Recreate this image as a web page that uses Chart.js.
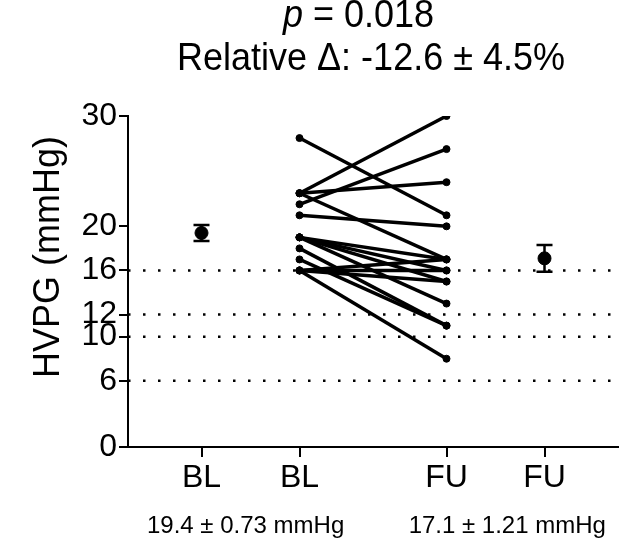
<!DOCTYPE html>
<html>
<head>
<meta charset="utf-8">
<script src="https://cdn.jsdelivr.net/npm/chart.js@4.4.1/dist/chart.umd.min.js"></script>
<style>
  body { margin: 0; background: #fff; }
  #wrap { width: 630px; height: 541px; }
</style>
</head>
<body>
<div id="wrap"><canvas id="hvpgChart"></canvas></div>
<script>
// HVPG paired plot, baseline (BL) vs follow-up (FU)
const xLabels = ["BL", "BL", "FU", "FU"];
const xTickPos = [0.75, 1.75, 3.25, 4.25];
const yTicks = [0, 6, 10, 12, 16, 20, 30];
const refLines = [6, 10, 12, 16];

// one entry per patient
const baseline = [28, 23, 23, 23, 22, 21, 19, 19, 19, 19, 18, 17, 16, 16, 16, 16];
const followUp = [21, 30, 24, 17, 27, 20, 16, 15, 13, 17, 11, 11, 17, 16, 8, 15];

const meanValues = [19.4, 17.1];
const semValues = [0.73, 1.21];
const meanLabels = ["19.4 ± 0.73 mmHg", "17.1 ± 1.21 mmHg"];

const FONT = "'Liberation Sans', Arial, sans-serif";

const datasets = [];

refLines.forEach(v => {
  datasets.push({
    data: [{ x: 0, y: v }, { x: 5, y: v }],
    showLine: true,
    borderColor: "#000",
    borderWidth: 2.5,
    borderDash: [2.5, 12.5],
    pointRadius: 0
  });
});

baseline.forEach((b, i) => {
  datasets.push({
    data: [{ x: xTickPos[1], y: b }, { x: xTickPos[2], y: followUp[i] }],
    showLine: true,
    borderColor: "#000",
    borderWidth: 3.5,
    pointRadius: 3.5,
    pointBorderWidth: 1,
    pointBackgroundColor: "#000",
    pointBorderColor: "#000"
  });
});

datasets.push({
  data: [{ x: xTickPos[0], y: meanValues[0] }, { x: xTickPos[3], y: meanValues[1] }],
  showLine: false,
  pointRadius: 6.5,
  pointBackgroundColor: "#000",
  pointBorderColor: "#000"
});

const errorBars = {
  id: "errorBars",
  afterDatasetsDraw(chart) {
    const { ctx, scales: { x, y } } = chart;
    const xs = [xTickPos[0], xTickPos[3]];
    ctx.save();
    ctx.strokeStyle = "#000";
    ctx.lineWidth = 2.5;
    meanValues.forEach((m, i) => {
      const px = x.getPixelForValue(xs[i]);
      const top = y.getPixelForValue(m + semValues[i]);
      const bot = y.getPixelForValue(m - semValues[i]);
      ctx.beginPath();
      ctx.moveTo(px, top); ctx.lineTo(px, bot);
      ctx.moveTo(px - 8, top); ctx.lineTo(px + 8, top);
      ctx.moveTo(px - 8, bot); ctx.lineTo(px + 8, bot);
      ctx.stroke();
    });
    ctx.restore();
  }
};

const texts = {
  id: "texts",
  afterDraw(chart) {
    const { ctx, scales: { x } } = chart;
    ctx.save();
    ctx.fillStyle = "#000";
    ctx.textBaseline = "alphabetic";

    // title lines are a bit taller than wide in the original
    ctx.save();
    ctx.scale(1, 1.1);
    ctx.textAlign = "left";
    ctx.font = "italic 36px " + FONT;
    ctx.fillText("p", 283, 27 / 1.1);
    const pw = ctx.measureText("p").width;
    ctx.font = "36px " + FONT;
    ctx.fillText(" = 0.018", 283 + pw, 27 / 1.1);

    ctx.textAlign = "center";
    ctx.fillText("Relative Δ: -12.6 ± 4.5%", 371, 70 / 1.1);
    ctx.restore();

    ctx.textAlign = "center";
    ctx.font = "24px " + FONT;
    const labelX = [1.2, 3.87];
    meanLabels.forEach((t, i) => {
      ctx.fillText(t, x.getPixelForValue(labelX[i]), 533);
    });

    // y axis title
    ctx.translate(49, 257);
    ctx.rotate(-Math.PI / 2);
    ctx.textBaseline = "middle";
    ctx.font = "36px " + FONT;
    ctx.fillText("HVPG (mmHg)", 0, 0);
    ctx.restore();
  }
};

new Chart(document.getElementById("hvpgChart"), {
  type: "scatter",
  data: { datasets: datasets },
  options: {
    responsive: true,
    maintainAspectRatio: false,
    animation: false,
    layout: { padding: { top: 116, right: 12, left: 0, bottom: 0 } },
    plugins: {
      legend: { display: false },
      tooltip: { enabled: false }
    },
    scales: {
      x: {
        type: "linear",
        min: 0,
        max: 5,
        afterBuildTicks: s => { s.ticks = xTickPos.map(v => ({ value: v })); },
        afterFit: s => { s.height = 94; },
        ticks: {
          autoSkip: false,
          maxRotation: 0,
          padding: 2,
          color: "#000",
          font: { family: FONT, size: 32 },
          callback: (v, i) => xLabels[i]
        },
        grid: { drawOnChartArea: false, drawTicks: true, tickLength: 10, color: "#000", lineWidth: 2 },
        border: { display: true, color: "#000", width: 2 }
      },
      y: {
        min: 0,
        max: 30,
        afterBuildTicks: s => { s.ticks = yTicks.map(v => ({ value: v })); },
        afterFit: s => { s.width = 128; },
        ticks: {
          autoSkip: false,
          padding: 2,
          color: "#000",
          font: { family: FONT, size: 32 }
        },
        grid: { drawOnChartArea: false, drawTicks: true, tickLength: 9, color: "#000", lineWidth: 2 },
        border: { display: true, color: "#000", width: 2 }
      }
    }
  },
  plugins: [errorBars, texts]
});
</script>
</body>
</html>
